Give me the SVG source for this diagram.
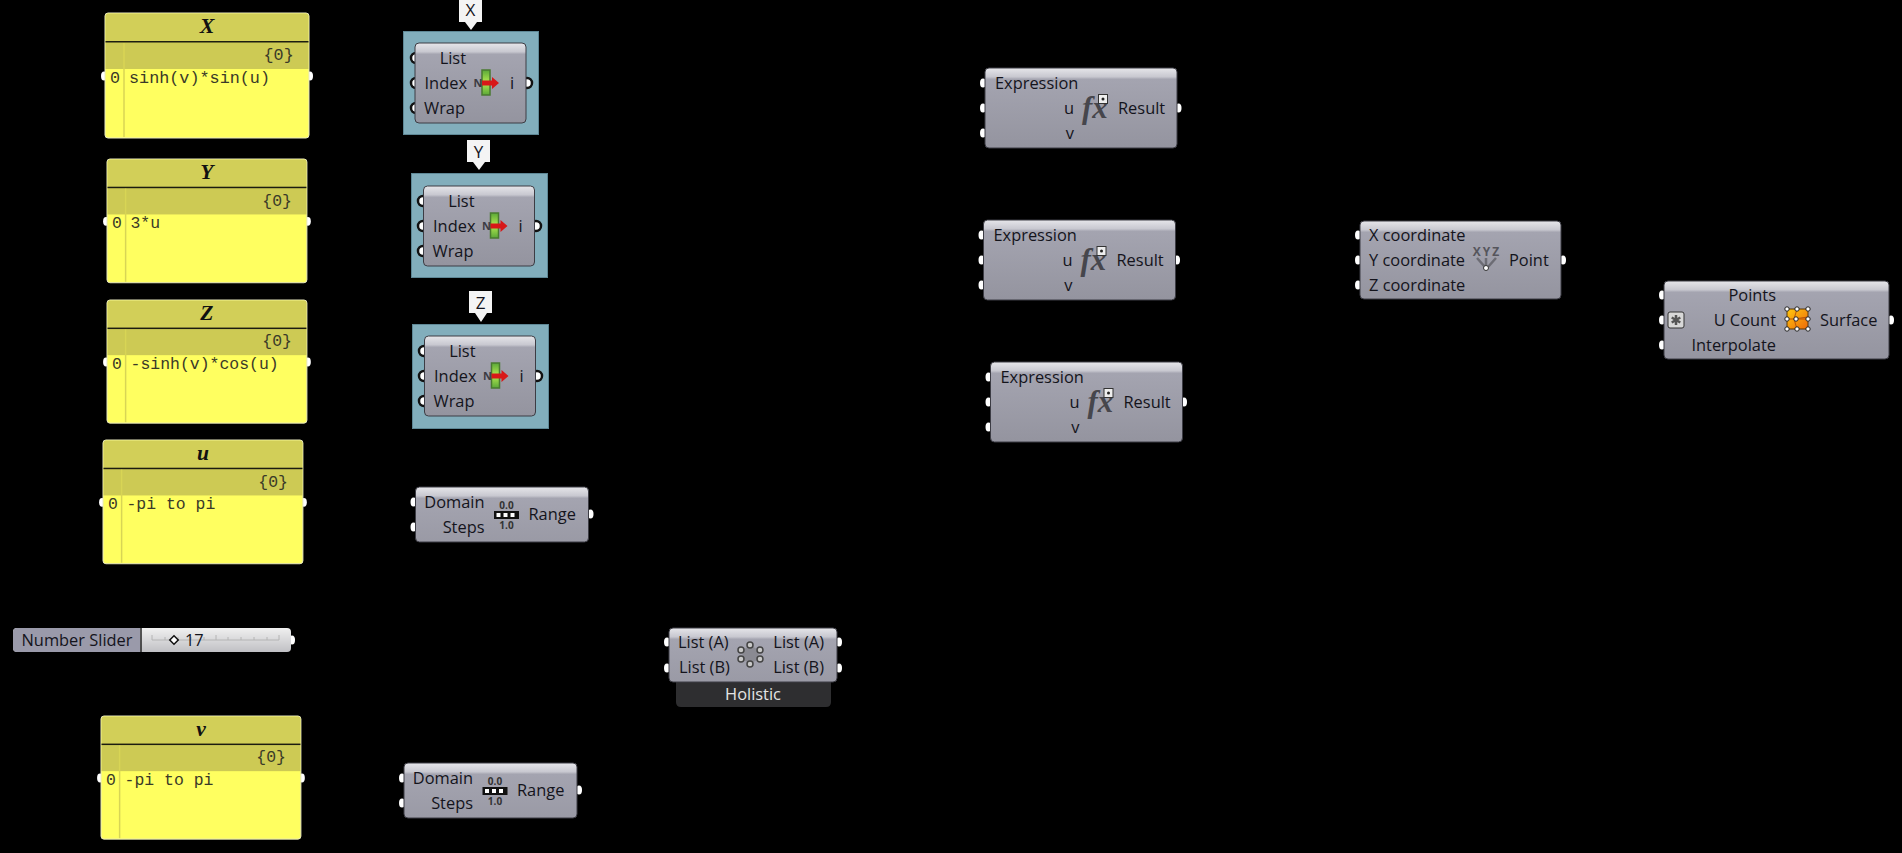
<svg xmlns="http://www.w3.org/2000/svg" width="1902" height="853" viewBox="0 0 1902 853">
<style>
text{font-family:"Open Sans","Noto Sans","Liberation Sans",sans-serif;font-size:16.4px;fill:#14141c}
.e{text-anchor:end}.m{text-anchor:middle}
.body{fill:url(#comp);stroke:#3c3c44;stroke-width:1}
.port{fill:#fff}
.ring{fill:#fff;stroke:#111;stroke-width:2.5}
.pb{fill:#ffff60;stroke:#e8e8c0;stroke-width:1}
.ph{fill:#d2cf58}
.pb2{fill:#cdca54}
.pl{stroke:#d8d555;stroke-width:1.5}
.ptitle{font-family:"Liberation Serif",serif;font-weight:bold;font-style:italic;font-size:22px;fill:#111;text-anchor:middle}
.mono{font-family:"Liberation Mono",monospace;font-size:16.8px;fill:#3a3a28}
.blue{fill:#82aebc;stroke:#5f8896}
.tag{fill:#f4f4f4}
.fx{font-family:"Liberation Serif",serif;font-style:italic;font-weight:bold;font-size:31px;fill:#46464c}
.wire{stroke:#2a3a40;stroke-width:3;fill:none}
.tick{stroke:#b4b4b4;fill:none}
</style>
<defs>
<linearGradient id="comp" gradientUnits="userSpaceOnUse" x1="0" y1="0" x2="0" y2="80">
<stop offset="0" stop-color="#e6e6ea"/><stop offset="0.11" stop-color="#c8c8d0"/><stop offset="0.14" stop-color="#a4a4b0"/><stop offset="1" stop-color="#94949f"/>
</linearGradient>
<linearGradient id="sl" x1="0" y1="0" x2="0" y2="1"><stop offset="0" stop-color="#f0f0f0"/><stop offset="1" stop-color="#c0c0c4"/></linearGradient>
<linearGradient id="surf" x1="0" y1="0" x2="1" y2="1"><stop offset="0" stop-color="#ffc810"/><stop offset="1" stop-color="#ee6a08"/></linearGradient>
<linearGradient id="bar" x1="0" y1="0" x2="0" y2="1"><stop offset="0" stop-color="#5aa838"/><stop offset=".5" stop-color="#b4ea50"/><stop offset="1" stop-color="#5aa838"/></linearGradient>
<g id="panelbase">
<rect class="pb" width="204" height="125" rx="3"/>
<path class="ph" d="M0.5 29V3Q0.5 .5 3 .5H201Q203.500 .5 203.500 3V29Z"/>
<rect class="pb2" x="0.5" y="29" width="203" height="27"/>
<rect x="0.500" y="28" width="203" height="1.500" fill="#1c1c10"/>
<line class="pl" x1="19" y1="30" x2="19" y2="124"/>
</g>
<g id="rangeicon">
<text class="m" x="0" y="-6" style="font-size:10px;font-weight:bold;fill:#333">0.0</text>
<rect x="-12.500" y="-4" width="25" height="8" fill="#111"/>
<rect x="-10" y="-2" width="4" height="4" fill="#fff"/><rect x="-3" y="-2" width="4" height="4" fill="#fff"/><rect x="4" y="-2" width="4" height="4" fill="#fff"/>
<text class="m" x="0" y="14" style="font-size:10px;font-weight:bold;fill:#333">1.0</text>
</g>
<g id="itemicon">
<rect x="-4" y="-13" width="8" height="25" fill="url(#bar)" stroke="#4a7a30" stroke-width="1.500"/>
<text x="-12.500" y="4" style="font-size:11px;font-weight:bold;fill:#3c3c44">N</text>
<path d="M-4 -2.500H6V-6L13 0L6 6V2.500H-4Z" fill="#d81818"/>
</g>
<g id="listitem">
<rect class="body" width="111" height="80" rx="4"/>
</g>
</defs>
<rect width="1902" height="853" fill="#000"/>
<g id="connectors">
<path class="wire" d="M403 58H414M529 83H539"/>
<path class="wire" d="M411 201H421M538 226H548"/>
<path class="wire" d="M412 351H422M539 376H549"/>
</g>
<g id="panel-x" transform="translate(105,13)">
<ellipse class="port" cx="-1" cy="63" rx="3" ry="4.500"/><ellipse class="port" cx="205" cy="63" rx="3" ry="4.500"/>
<use href="#panelbase"/><text class="ptitle" x="102" y="20">X</text><text class="mono" x="158.500" y="47">{0}</text><text class="mono" x="5" y="70">0</text><text class="mono" x="24" y="70">sinh(v)*sin(u)</text>
</g>
<g id="panel-y" transform="translate(107,159) scale(.98,.99)">
<ellipse class="port" cx="-1" cy="63" rx="3" ry="4.500"/><ellipse class="port" cx="205" cy="63" rx="3" ry="4.500"/>
<use href="#panelbase"/><text class="ptitle" x="102" y="20">Y</text><text class="mono" x="158.500" y="47">{0}</text><text class="mono" x="5" y="70">0</text><text class="mono" x="24" y="70">3*u</text>
</g>
<g id="panel-z" transform="translate(107,300) scale(.98,.985)">
<ellipse class="port" cx="-1" cy="63" rx="3" ry="4.500"/><ellipse class="port" cx="205" cy="63" rx="3" ry="4.500"/>
<use href="#panelbase"/><text class="ptitle" x="102" y="20">Z</text><text class="mono" x="158.500" y="47">{0}</text><text class="mono" x="5" y="70">0</text><text class="mono" x="24" y="70">-sinh(v)*cos(u)</text>
</g>
<g id="panel-u" transform="translate(103,440) scale(.98,.99)">
<ellipse class="port" cx="-1" cy="63" rx="3" ry="4.500"/><ellipse class="port" cx="205" cy="63" rx="3" ry="4.500"/>
<use href="#panelbase"/><text class="ptitle" x="102" y="20">u</text><text class="mono" x="158.500" y="47">{0}</text><text class="mono" x="5" y="70">0</text><text class="mono" x="24" y="70">-pi to pi</text>
</g>
<g id="panel-v" transform="translate(101,716) scale(.98,.985)">
<ellipse class="port" cx="-1" cy="63" rx="3" ry="4.500"/><ellipse class="port" cx="205" cy="63" rx="3" ry="4.500"/>
<use href="#panelbase"/><text class="ptitle" x="102" y="20">v</text><text class="mono" x="158.500" y="47">{0}</text><text class="mono" x="5" y="70">0</text><text class="mono" x="24" y="70">-pi to pi</text>
</g>
<g id="tag-x"><path class="tag" d="M459 0H482V22H477L471 30L465 22H459Z"/><text class="m" x="470.500" y="16" style="font-size:17px">X</text></g>
<g id="tag-y"><path class="tag" d="M467 140H490V162H485L479 170L473 162H467Z"/><text class="m" x="478.500" y="158" style="font-size:17px">Y</text></g>
<g id="tag-z"><path class="tag" d="M469 291H492V313H487L481 322L475 313H469Z"/><text class="m" x="480.500" y="309" style="font-size:17px">Z</text></g>
<g id="item-x">
<rect class="blue" x="403.500" y="31.500" width="135" height="103"/>
<circle class="ring" cx="416" cy="58" r="5"/><circle class="ring" cx="416" cy="83" r="5"/><circle class="ring" cx="416" cy="108" r="5"/><circle class="ring" cx="527" cy="83" r="5"/>
<g transform="translate(415,43)"><use href="#listitem"/>
<text class="e" x="51" y="21">List</text><text class="e" x="52" y="46">Index</text><text class="e" x="50" y="71">Wrap</text><text x="95" y="46">i</text>
<use href="#itemicon" x="71" y="40"/></g>
</g>
<g id="item-y">
<rect class="blue" x="411.500" y="173.500" width="136" height="104"/>
<circle class="ring" cx="423" cy="201" r="5"/><circle class="ring" cx="423" cy="226" r="5"/><circle class="ring" cx="423" cy="251" r="5"/><circle class="ring" cx="536" cy="226" r="5"/>
<g transform="translate(423.500,186)"><use href="#listitem"/>
<text class="e" x="51" y="21">List</text><text class="e" x="52" y="46">Index</text><text class="e" x="50" y="71">Wrap</text><text x="95" y="46">i</text>
<use href="#itemicon" x="71" y="40"/></g>
</g>
<g id="item-z">
<rect class="blue" x="412.500" y="324.500" width="136" height="104"/>
<circle class="ring" cx="424" cy="351" r="5"/><circle class="ring" cx="424" cy="376" r="5"/><circle class="ring" cx="424" cy="401" r="5"/><circle class="ring" cx="537" cy="376" r="5"/>
<g transform="translate(424.500,336)"><use href="#listitem"/>
<text class="e" x="51" y="21">List</text><text class="e" x="52" y="46">Index</text><text class="e" x="50" y="71">Wrap</text><text x="95" y="46">i</text>
<use href="#itemicon" x="71" y="40"/></g>
</g>
<g id="range-1" transform="translate(415.500,487)">
<ellipse class="port" cx="-2" cy="15" rx="3" ry="4.500"/><ellipse class="port" cx="-2" cy="40" rx="3" ry="4.500"/><ellipse class="port" cx="175" cy="27" rx="3" ry="4.500"/>
<rect class="body" width="173" height="55" rx="4"/>
<text class="e" x="69" y="21">Domain</text><text class="e" x="69" y="46">Steps</text><text x="113" y="33">Range</text>
<use href="#rangeicon" x="91" y="28"/>
</g>
<g id="range-2" transform="translate(404,763)">
<ellipse class="port" cx="-2" cy="15" rx="3" ry="4.500"/><ellipse class="port" cx="-2" cy="40" rx="3" ry="4.500"/><ellipse class="port" cx="175" cy="27" rx="3" ry="4.500"/>
<rect class="body" width="173" height="55" rx="4"/>
<text class="e" x="69" y="21">Domain</text><text class="e" x="69" y="46">Steps</text><text x="113" y="33">Range</text>
<use href="#rangeicon" x="91" y="28"/>
</g>
<g id="slider">
<ellipse class="port" cx="292" cy="640" rx="3" ry="4.500"/>
<rect x="13" y="628" width="278" height="24" rx="4" fill="url(#sl)"/>
<path d="M140 628H17Q13 628 13 632V648Q13 652 17 652H140Z" fill="#9a9aaa"/>
<line x1="141" y1="628" x2="141" y2="652" stroke="#222" stroke-width="1.500"/>
<path class="tick" d="M152 640H279M152 635V640M165 637V640M178 637V640M191 637V640M204 637V640M216 635V640M228 637V640M241 637V640M254 637V640M267 637V640M279 635V640"/>
<text x="21.500" y="646">Number Slider</text>
<rect x="171" y="637" width="6" height="6" transform="rotate(45 174 640)" fill="#fff" stroke="#111" stroke-width="1.500"/>
<text x="185" y="646">17</text>
</g>
<g id="holistic" transform="translate(669,628)">
<ellipse class="port" cx="-2" cy="14" rx="3" ry="4.500"/><ellipse class="port" cx="-2" cy="40" rx="3" ry="4.500"/><ellipse class="port" cx="170" cy="14" rx="3" ry="4.500"/><ellipse class="port" cx="170" cy="40" rx="3" ry="4.500"/>
<path d="M7 50H162V74Q162 79 157 79H12Q7 79 7 74Z" fill="#2e2e30"/>
<rect class="body" width="168" height="54" rx="4"/>
<text x="9" y="20">List (A)</text><text x="10" y="45">List (B)</text><text class="e" x="155" y="20">List (A)</text><text class="e" x="155" y="45">List (B)</text>
<circle cx="81.500" cy="26.500" r="8" fill="#8a8a92"/>
<g fill="#c8c8c8" stroke="#444" stroke-width="1.500"><circle cx="81" cy="17" r="3"/><circle cx="72" cy="22" r="3"/><circle cx="91" cy="22" r="3"/><circle cx="72" cy="31" r="3"/><circle cx="91" cy="31" r="3"/><circle cx="81" cy="36" r="3"/></g>
<text class="m" x="84" y="72" style="fill:#e4e4e4">Holistic</text>
</g>
<g id="expr-1" transform="translate(985,68)">
<ellipse class="port" cx="-2" cy="15" rx="3" ry="4.500"/><ellipse class="port" cx="-2" cy="40" rx="3" ry="4.500"/><ellipse class="port" cx="-2" cy="65" rx="3" ry="4.500"/><ellipse class="port" cx="193.500" cy="40" rx="3" ry="4.500"/>
<rect class="body" width="192" height="80" rx="4"/>
<text x="10" y="21">Expression</text><text class="e" x="89" y="46">u</text><text class="e" x="89" y="71">v</text><text x="133" y="46">Result</text>
<text class="fx" x="97" y="50">fx</text><rect x="113.500" y="26.500" width="9" height="9" fill="#eee" stroke="#333"/><circle cx="118" cy="31" r="1.500" fill="#222"/>
</g>
<g id="expr-2" transform="translate(983.500,220)">
<ellipse class="port" cx="-2" cy="15" rx="3" ry="4.500"/><ellipse class="port" cx="-2" cy="40" rx="3" ry="4.500"/><ellipse class="port" cx="-2" cy="65" rx="3" ry="4.500"/><ellipse class="port" cx="193.500" cy="40" rx="3" ry="4.500"/>
<rect class="body" width="192" height="80" rx="4"/>
<text x="10" y="21">Expression</text><text class="e" x="89" y="46">u</text><text class="e" x="89" y="71">v</text><text x="133" y="46">Result</text>
<text class="fx" x="97" y="50">fx</text><rect x="113.500" y="26.500" width="9" height="9" fill="#eee" stroke="#333"/><circle cx="118" cy="31" r="1.500" fill="#222"/>
</g>
<g id="expr-3" transform="translate(990.500,362)">
<ellipse class="port" cx="-2" cy="15" rx="3" ry="4.500"/><ellipse class="port" cx="-2" cy="40" rx="3" ry="4.500"/><ellipse class="port" cx="-2" cy="65" rx="3" ry="4.500"/><ellipse class="port" cx="193.500" cy="40" rx="3" ry="4.500"/>
<rect class="body" width="192" height="80" rx="4"/>
<text x="10" y="21">Expression</text><text class="e" x="89" y="46">u</text><text class="e" x="89" y="71">v</text><text x="133" y="46">Result</text>
<text class="fx" x="97" y="50">fx</text><rect x="113.500" y="26.500" width="9" height="9" fill="#eee" stroke="#333"/><circle cx="118" cy="31" r="1.500" fill="#222"/>
</g>
<g id="construct-point" transform="translate(1360,221)">
<ellipse class="port" cx="-2" cy="14" rx="3" ry="4.500"/><ellipse class="port" cx="-2" cy="39" rx="3" ry="4.500"/><ellipse class="port" cx="-2" cy="64" rx="3" ry="4.500"/><ellipse class="port" cx="203" cy="39" rx="3" ry="4.500"/>
<rect class="body" width="201" height="78" rx="4"/>
<text x="9" y="20">X coordinate</text><text x="9" y="45">Y coordinate</text><text x="9" y="70">Z coordinate</text><text x="149" y="45">Point</text>
<text class="m" x="127" y="35" style="font-size:12px;font-weight:bold;fill:#55555c;letter-spacing:2px">XYZ</text>
<path d="M117 37L125 46M126 37V46M136 37L128 46" stroke="#6c6c74" stroke-width="2.500" fill="none"/>
<circle cx="126" cy="47" r="2.500" fill="#fff" stroke="#333"/>
</g>
<g id="surface" transform="translate(1664,281)">
<ellipse class="port" cx="-2" cy="14" rx="3" ry="4.500"/><ellipse class="port" cx="-2" cy="39" rx="3" ry="4.500"/><ellipse class="port" cx="-2" cy="64" rx="3" ry="4.500"/><ellipse class="port" cx="227" cy="39" rx="3" ry="4.500"/>
<rect class="body" width="225" height="78" rx="4"/>
<rect x="4" y="31" width="16" height="16" rx="2" fill="#d8d8d8" stroke="#333"/>
<path d="M12 34V44M7.700 36.500L16.300 41.500M7.700 41.500L16.300 36.500" stroke="#555" stroke-width="2.500"/>
<text class="e" x="112" y="20">Points</text><text class="e" x="112" y="45">U Count</text><text class="e" x="112" y="70">Interpolate</text><text x="156" y="45">Surface</text>
<rect x="123" y="28" width="21" height="20" fill="url(#surf)" stroke="#5a3808"/>
<path d="M123 38H144M133 28L130 38L133 48M130 38L144 36" stroke="#b8520a" stroke-width="1" fill="none"/>
<g fill="#fff" stroke="#222"><circle cx="123" cy="28" r="2.200"/><circle cx="133" cy="28" r="2.200"/><circle cx="144" cy="28" r="2.200"/><circle cx="123" cy="38" r="2.200"/><circle cx="132" cy="38" r="2.200"/><circle cx="144" cy="38" r="2.200"/><circle cx="123" cy="48" r="2.200"/><circle cx="133" cy="48" r="2.200"/><circle cx="144" cy="48" r="2.200"/></g>
</g>
</svg>
